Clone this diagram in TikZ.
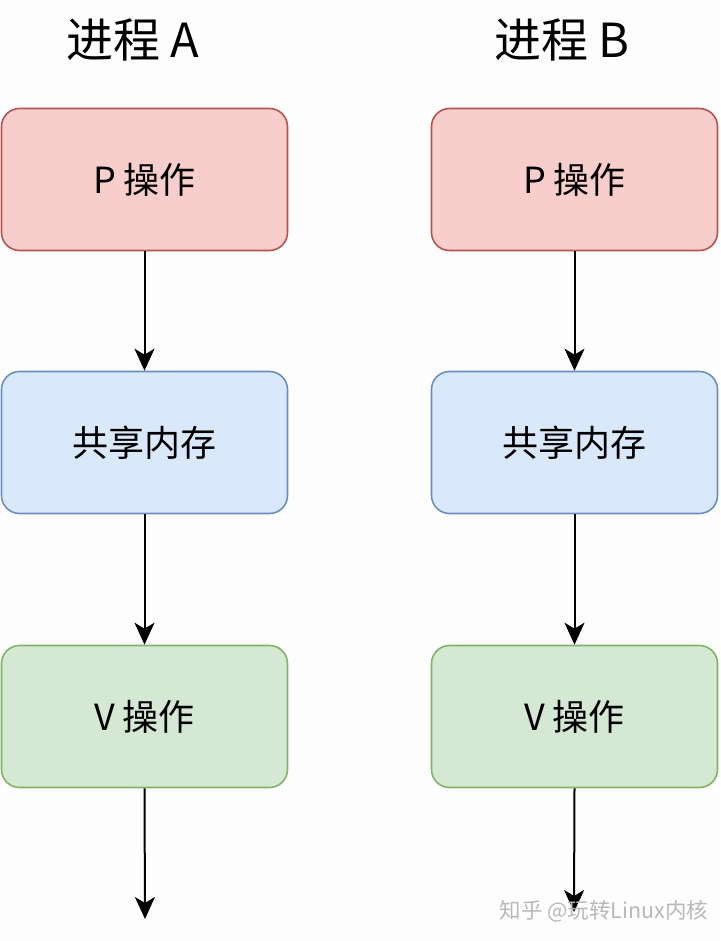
\documentclass[tikz,border=0pt]{standalone}
\usepackage{fontspec}
\setmainfont{Noto Sans CJK SC}
\usetikzlibrary{arrows.meta}
\definecolor{redfill}{HTML}{F8CECC}
\definecolor{redline}{HTML}{B85450}
\definecolor{bluefill}{HTML}{DAE8FC}
\definecolor{blueline}{HTML}{6C8EBF}
\definecolor{greenfill}{HTML}{D5E8D4}
\definecolor{greenline}{HTML}{82B366}
\definecolor{bg}{HTML}{FDFDFE}
\tikzset{
  box/.style={rounded corners=18pt, line width=1.6pt, minimum width=286pt, minimum height=142pt, inner sep=0pt, font=\fontsize{36pt}{42pt}\selectfont},
  pbox/.style={box, fill=redfill, draw=redline},
  sbox/.style={box, fill=bluefill, draw=blueline},
  vbox/.style={box, fill=greenfill, draw=greenline},
  title/.style={font=\fontsize{47pt}{54pt}\selectfont},
  conn/.style={line width=2pt, -{Stealth[length=22pt,width=20pt,inset=6pt]}},
}
\begin{document}
\begin{tikzpicture}[x=1pt,y=-1pt]
\fill[bg] (0,0) rectangle (720,941);
\useasboundingbox (0,0) rectangle (720,941);
\node[title] (ta) at (133,40) {进程 A};
\node[title] (tb) at (562,40) {进程 B};
\node[pbox] (pa) at (144.5,179.5) {P 操作};
\node[sbox] (sa) at (144.5,442.5) {共享内存};
\node[vbox] (va) at (144.5,716.5) {V 操作};
\node[pbox] (pb) at (574.5,179.5) {P 操作};
\node[sbox] (sb) at (574.5,442.5) {共享内存};
\node[vbox] (vb) at (574.5,716.5) {V 操作};
\coordinate (ea) at (145,919);
\coordinate (eb) at (574,912);
\draw[conn] (pa.south) -- (sa.north);
\draw[conn] (sa.south) -- (va.north);
\draw[conn] (va.south) -- (ea);
\draw[conn] (pb.south) -- (sb.north);
\draw[conn] (sb.south) -- (vb.north);
\draw[conn] (vb.south) -- (eb);
\node[font=\fontsize{21.5pt}{24pt}\selectfont, text=gray!55, anchor=west] (wm) at (496,911) {知乎 @玩转Linux内核};
\end{tikzpicture}
\end{document}
